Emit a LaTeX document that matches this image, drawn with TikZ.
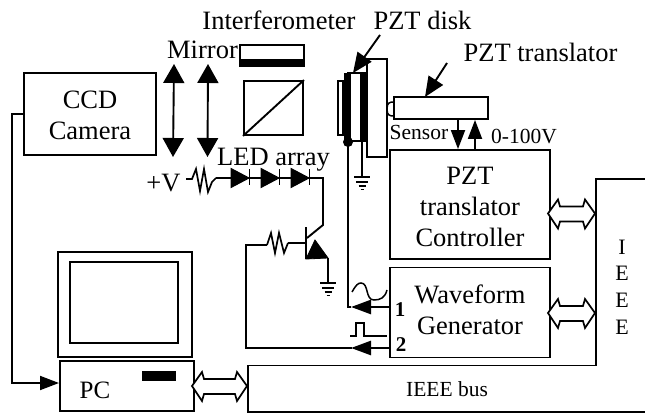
\documentclass[tikz,border=0pt]{standalone}
\usepackage{fontspec}
\setmainfont{Liberation Serif}
\usetikzlibrary{arrows.meta,calc}
\newcommand{\bigtxt}{\fontsize{26.5}{31}\selectfont}
\newcommand{\midtxt}{\fontsize{21.5}{26}\selectfont}
\newcommand{\busarrow}[3]{% x1, x2, y
  \draw[line width=1.7pt,fill=white,line join=miter]
   (#1,#3) -- ({#1+10},{#3-14}) -- ({#1+12},{#3-7}) -- ({#2-12},{#3-7}) -- ({#2-10},{#3-14}) -- (#2,#3)
   -- ({#2-10},{#3+15}) -- ({#2-12},{#3+8}) -- ({#1+12},{#3+8}) -- ({#1+10},{#3+15}) -- cycle;}
\newcommand{\grounded}[1]{%
  \draw[gnd] ($(#1)+(-8,0)$) -- ($(#1)+(8,0)$);
  \draw[gnd] ($(#1)+(-6,5)$) -- ($(#1)+(6,5)$);
  \draw[gnd] ($(#1)+(-3.5,9)$) -- ($(#1)+(3.5,9)$);
  \draw[gnd] ($(#1)+(-1.5,12.5)$) -- ($(#1)+(1.5,12.5)$);}
\tikzset{
  x=1pt,y=-1pt,
  every path/.style={line width=1.9pt},
  box/.style={draw,line width=1.9pt,inner sep=0pt},
  boxtext/.style={inner sep=0pt,align=center,font=\bigtxt},
  gnd/.style={line width=1.6pt},
  wire/.style={line width=1.9pt,line join=miter},
  tip/.style={line width=1.9pt,-{Triangle[length=19pt,width=14pt]}},
  tipwide/.style={line width=1.9pt,{Triangle[length=19pt,width=21pt]}-{Triangle[length=19pt,width=21pt]}},
  pointer/.style={line width=1.9pt,-{Triangle[length=20pt,width=17pt]}},
  big/.style={inner sep=0pt,font=\bigtxt,anchor=base},
  mid/.style={inner sep=0pt,font=\midtxt,anchor=base},
  num/.style={inner sep=0pt,font=\fontsize{21}{25}\selectfont\bfseries,anchor=base},
  diodefill/.style={fill=black,draw=black,line width=1pt},
  resist/.style={line width=1.7pt,line join=miter},
}
\begin{document}
\begin{tikzpicture}
\useasboundingbox (0,0) rectangle (645,414);
% labels
\node[big] (tint) at (279,30) {Interferometer};
\node[big] (tmir) at (202.5,59) {Mirror};
\node[big] (tdisk) at (422.5,30) {PZT disk};
\node[big] (ttrans) at (540.5,62) {PZT translator};
\node[big] (tled) at (273.5,166) {LED array};
\node[big] (tv) at (163.5,192) {+V};
\node[mid] (tsen) at (419,140) {Sensor};
\node[mid] (tvolt) at (524,144) {0-100V};
% boxes
\node[box,minimum width=132pt,minimum height=82pt] (ccd) at (90,114) {};
\node[boxtext] (tccd) at (90,115) {CCD\\Camera};
\node[box,minimum width=160pt,minimum height=109pt] (ctrl) at (470,204.5) {};
\node[boxtext] (tctrl) at (470,206.5) {PZT\\translator\\Controller};
\node[box,minimum width=160pt,minimum height=90pt] (wave) at (470,312.5) {};
\node[boxtext] (twave) at (470,309.5) {Waveform\\Generator};
\node[box,minimum width=134pt,minimum height=105.5pt] (mon) at (125,304.5) {};
\node[box,minimum width=108pt,minimum height=81pt] (scr) at (124,302.5) {};
\node[box,minimum width=134pt,minimum height=50pt] (pc) at (127,386) {};
\node[big,font=\fontsize{25}{30}\selectfont] (tpc) at (95,398) {PC};
\node[draw=black,fill=black,line width=.5pt,minimum width=33pt,minimum height=9pt,inner sep=0pt] (drive) at (158.5,375.5) {};
% CCD to PC
\coordinate (cw) at (12,114);
\coordinate (cs) at (12,383);
\coordinate (cp) at (59,383);
\draw[wire,-{Triangle[length=19pt,width=14pt]}] (ccd.west) -- (cw) -- (cs) -- (cp);
% IEEE bus outline
\coordinate (bb) at (248,365.5);
\coordinate (bc) at (596,365.5);
\coordinate (bd) at (596,179);
\coordinate (be) at (645,179);
\coordinate (bf) at (645,412);
\coordinate (bg) at (248,412);
\draw[wire] (be) -- (bd) -- (bc) -- (bb) -- (bg) -- (bf);
\node[mid] (tbus) at (447,396) {IEEE bus};
\node[mid,align=center,anchor=north,font=\fontsize{22}{26.6}\selectfont] (tieee) at (622,239) {I\\E\\E\\E};
% bus arrows
\busarrow{192}{247}{386}
\busarrow{548}{595}{213.5}
\busarrow{548}{595}{313}
% mirrors (lenses)
\coordinate (m1t) at (174,64); \coordinate (m1b) at (173,157);
\coordinate (m2t) at (208,64); \coordinate (m2b) at (207.5,157);
\draw[tipwide] (m1t) -- (m1b);
\draw[tipwide] (m2t) -- (m2b);
% interferometer mirror
\node[draw,minimum width=64pt,minimum height=21pt,inner sep=0pt] (imir) at (272,55.5) {};
\fill (240,59) rectangle (304,66.5);
% beam splitter
\node[draw,minimum width=59pt,minimum height=54pt,inner sep=0pt] (bs) at (273.5,108) {};
\draw (bs.south west) -- (bs.north east);
% PZT stack
\node[draw,minimum width=5pt,minimum height=54pt,inner sep=0pt] (backp) at (340.5,108) {};
\node[draw,minimum width=20pt,minimum height=98pt,inner sep=0pt] (plate) at (377,108) {};
\node[draw,minimum width=16pt,minimum height=68pt,inner sep=0pt] (disk) at (355.5,107) {};
\fill (344,73) rectangle (351,141);
\fill (360,72) rectangle (367,142);
\fill (348,142) circle (5);
% translator
\node[draw,minimum width=94pt,minimum height=22pt,inner sep=0pt] (trans) at (441,108) {};
\draw[line width=1.5pt] (394,102) .. controls (389,102) and (387,103) .. (387,109) .. controls (387,115) and (389,116) .. (394,116);
% pointers
\coordinate (pd) at (380,35); \coordinate (pdt) at (353,73);
\coordinate (pt) at (447,63); \coordinate (ptt) at (425,97);
\draw[pointer] (pd) -- (pdt);
\draw[pointer] (pt) -- (ptt);
% sensor / drive arrows
\draw[tip] (trans.south -| 458,0) -- (ctrl.north -| 458,0);
\draw[tip] (ctrl.north -| 475,0) -- (trans.south -| 475,0);
% disk wires
\coordinate (g1) at (362,177);
\coordinate (w1) at (348,307);
\coordinate (w1t) at (351,307);
\draw[wire] (348,142) -- (w1) -- (w1t);
\draw (362,142) -- (g1);
\grounded{g1}
\coordinate (o1) at (390,307);
\draw[line width=2.6pt,-{Triangle[length=20pt,width=14pt]}] (o1) -- (351,307);
% output 2
\coordinate (o2) at (390,348);
\coordinate (c2) at (246,348);
\coordinate (c3) at (246,245);
\coordinate (r2a) at (267,245);
\coordinate (r2b) at (288,243);
\coordinate (q) at (306,243);
\draw[wire] (352,348) -- (c2) -- (c3) -- (r2a);
\draw[line width=2.6pt,-{Triangle[length=20pt,width=14pt]}] (o2) -- (351,348);
\draw[resist] (r2a) -- (271,233) -- (275,253) -- (279,233) -- (284,253) -- (r2b);
\draw (r2b) -- (q);
\node[num] (n1) at (400,316) {1};
\node[num] (n2) at (401,351) {2};
% signal shapes
\coordinate (s1) at (352,292);
\coordinate (s2) at (387,290);
\draw[line width=1.5pt] (s1) .. controls (356,285) and (358,283) .. (361,283) .. controls (369,283) and (365,300) .. (374,300) .. controls (380,300) and (385,298) .. (s2);
\coordinate (p1) at (350,336);
\coordinate (p2) at (387,336);
\draw[line width=1.5pt] (p1) -- (356,336) -- (356,323) -- (364,323) -- (364,336) -- (p2);
% LED circuit
\coordinate (ra) at (186,179);
\coordinate (rb) at (212,182);
\draw[resist] (ra) -- (192,179) -- (196,169) -- (200,191) -- (204,169) -- (208,192) -- (rb) -- (216,178);
\coordinate (d1) at (231,178);
\coordinate (d2) at (261,178);
\coordinate (d3) at (291,178);
\coordinate (ce) at (323,178);
\coordinate (cd) at (323,225);
\coordinate (cq) at (307,238);
\draw[wire] (216,178) -- (d1) -- (d3) -- (ce) -- (cd) -- (cq);
\foreach \d in {d1,d2,d3}{
  \fill[diodefill] (\d) ++(0,-9.5) -- ++(18,9.5) -- ++(-18,9.5) -- cycle;
  \draw[line width=1.6pt] (\d) ++(18.5,-8.5) -- ++(0,16);
}
% transistor
\coordinate (qt) at (306,227);
\coordinate (qb) at (306,259);
\coordinate (qe) at (328,258);
\coordinate (g2) at (328,283);
\draw (qt) -- (qb);
\fill[draw=black,line width=.8pt] (315,240) -- (qe) -- (qb) -- cycle;
\draw (qe) -- (g2);
\grounded{g2}
\end{tikzpicture}
\end{document}
